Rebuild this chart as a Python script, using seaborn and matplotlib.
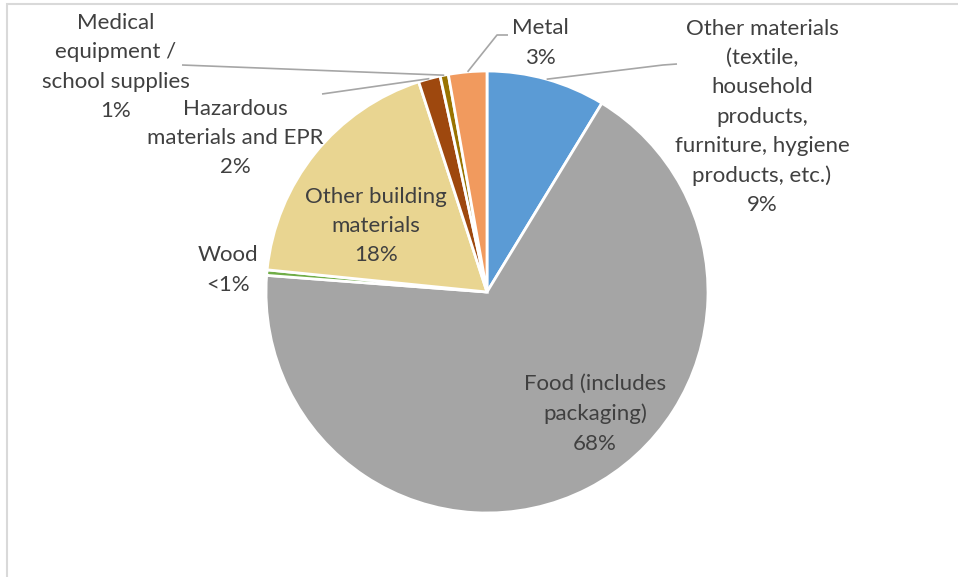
import numpy as np
import matplotlib
matplotlib.use("Agg")
import matplotlib.pyplot as plt
from matplotlib.patches import Rectangle
import seaborn as sns

# Share of collected material by category (percent)
categories = [
    "Other materials\n(textile,\nhousehold\nproducts,\nfurniture, hygiene\nproducts, etc.)",
    "Food (includes\npackaging)",
    "Wood",
    "Other building\nmaterials",
    "Hazardous\nmaterials and EPR",
    "Medical\nequipment /\nschool supplies",
    "Metal",
]
shares = [8.7, 67.5, 0.4, 18.4, 1.6, 0.6, 2.8]
colors = ["#5B9BD5", "#A5A5A5", "#70AD47", "#E9D591", "#9E480E", "#997300", "#F19A5E"]

sns.set_theme(style="white")
plt.rcParams["font.family"] = ["Lato", "DejaVu Sans"]

W, H = 958, 577
fig = plt.figure(figsize=(W / 100, H / 100), dpi=100)
ax = fig.add_axes([0, 0, 1, 1])


def py(y):
    """Convert a top-down pixel row to the axes' bottom-up coordinate."""
    return H - y


cx, cy, r = 487, py(292), 221
wedges, _ = ax.pie(
    shares,
    colors=colors,
    startangle=90,
    counterclock=False,
    center=(cx, cy),
    radius=r,
    wedgeprops=dict(edgecolor="white", linewidth=2.0),
    frame=True,
)
ax.set_xlim(0, W)
ax.set_ylim(0, H)
ax.set_aspect("equal")
ax.axis("off")


def pct(v):
    return "<1%" if v < 0.5 else f"{round(v)}%"


def anchor(i):
    w = wedges[i]
    a = np.deg2rad((w.theta1 + w.theta2) / 2)
    return cx + r * np.cos(a), cy + r * np.sin(a)


txt_kw = dict(ha="center", va="center", fontsize=16, color="#404040", linespacing=1.58)

# label centres (x, y in pixel rows from top)
label_pos = [(762, 117), (595, 414), (228, 270), (376, 226), (235, 138), (116, 67), (540, 43)]
for i, (name, v) in enumerate(zip(categories, shares)):
    x, y = label_pos[i]
    ax.text(x, py(y), f"{name}\n{pct(v)}", **txt_kw)

# leader lines for the labels placed outside their slices
line_kw = dict(color="#A6A6A6", linewidth=1.2, solid_capstyle="butt")
a0 = anchor(0)
ax.plot([677, 663, a0[0]], [py(64), py(65), a0[1]], **line_kw)
a6 = anchor(6)
ax.plot([508, 497, a6[0]], [py(35), py(35), a6[1]], **line_kw)
a5 = anchor(5)
ax.plot([182, a5[0]], [py(65), a5[1]], **line_kw)
a4 = anchor(4)
ax.plot([322, a4[0]], [py(94), a4[1]], **line_kw)

# chart frame
ax.add_patch(Rectangle((7, -20), W + 40, py(4) + 20, fill=False,
                       edgecolor="#D9D9D9", linewidth=1.5, clip_on=False))

fig.savefig("out.png", dpi=100, facecolor="white")
